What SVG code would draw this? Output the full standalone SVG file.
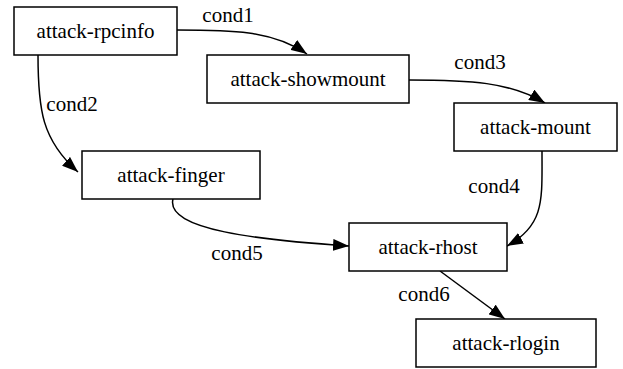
<svg xmlns="http://www.w3.org/2000/svg" width="623" height="369" viewBox="0 0 623 369">
<style>
.n rect{fill:#fff;stroke:#000;stroke-width:1.5}
.t{font-family:'Times New Roman','Liberation Serif',Times,serif;font-size:21px;fill:#000;text-anchor:middle}
.e path{fill:none;stroke:#000;stroke-width:1.5}
</style>
<defs>
<marker id="ah" viewBox="0 0 16 12" refX="16" refY="6" markerWidth="16" markerHeight="12" markerUnits="userSpaceOnUse" orient="auto">
<path d="M0,0 L16,6 L0,12 z" fill="#000"/>
</marker>
</defs>
<rect width="623" height="369" fill="#fff"/>
<g id="edges" class="e">
<path d="M177,30 C230,30 272,30 307,54" marker-end="url(#ah)"/>
<text class="t" x="228" y="22">cond1</text>
<path d="M38,55 C38,110 42,140 78,172" marker-end="url(#ah)"/>
<text class="t" x="72" y="111">cond2</text>
<path d="M409,80 C470,80 510,82 545,103" marker-end="url(#ah)"/>
<text class="t" x="480" y="69">cond3</text>
<path d="M542,151 C542,200 545,225 507,246" marker-end="url(#ah)"/>
<text class="t" x="494" y="193">cond4</text>
<path d="M173,199 C165,230 260,240 349,246" marker-end="url(#ah)"/>
<text class="t" x="237" y="260">cond5</text>
<path d="M440,271 L505,319" marker-end="url(#ah)"/>
<text class="t" x="424" y="301">cond6</text>
</g>
<g id="attack-rpcinfo" class="n"><rect x="14" y="7" width="163" height="48"/><text class="t" x="95.5" y="38">attack-rpcinfo</text></g>
<g id="attack-showmount" class="n"><rect x="207" y="55" width="202" height="48"/><text class="t" x="308" y="86">attack-showmount</text></g>
<g id="attack-mount" class="n"><rect x="454" y="103" width="163" height="48"/><text class="t" x="535.5" y="134">attack-mount</text></g>
<g id="attack-finger" class="n"><rect x="82" y="151" width="178" height="48"/><text class="t" x="171" y="182">attack-finger</text></g>
<g id="attack-rhost" class="n"><rect x="349" y="223" width="158" height="48"/><text class="t" x="428" y="254">attack-rhost</text></g>
<g id="attack-rlogin" class="n"><rect x="416" y="319" width="180" height="48"/><text class="t" x="506" y="350">attack-rlogin</text></g>
</svg>
